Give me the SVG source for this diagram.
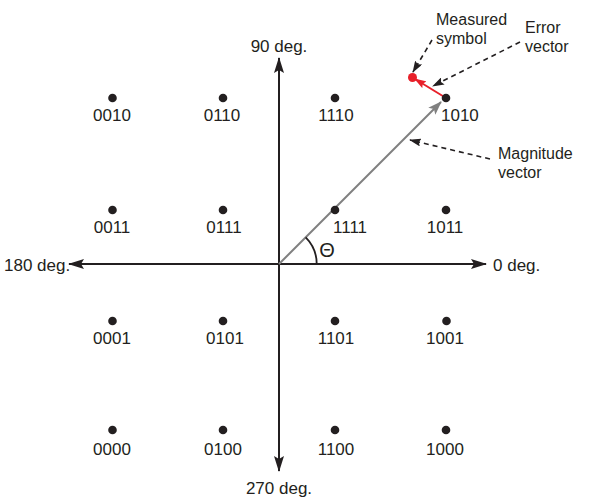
<svg xmlns="http://www.w3.org/2000/svg" width="595" height="504" viewBox="0 0 595 504">
<style>
text{font-family:"Liberation Sans",Arial,sans-serif;font-size:17px;fill:#231f20}
.lbl{text-anchor:middle}
.note{font-size:16px}
.dot{fill:#231f20}
.axis{stroke:#231f20;stroke-width:2;fill:none}
.dash{stroke:#231f20;stroke-width:1.6;stroke-dasharray:5,4;fill:none}
</style>
<defs>
<marker id="ah" markerWidth="16" markerHeight="10" refX="15" refY="5" orient="auto" markerUnits="userSpaceOnUse">
<path d="M0,0 L16,5 L0,10 L3,5 Z" fill="#231f20"/>
</marker>
<marker id="ahs" markerWidth="12" markerHeight="8" refX="11" refY="4" orient="auto" markerUnits="userSpaceOnUse">
<path d="M0,0 L12,4 L0,8 L2,4 Z" fill="#231f20"/>
</marker>
<marker id="ahg" markerWidth="14" markerHeight="10" refX="13" refY="5" orient="auto" markerUnits="userSpaceOnUse">
<path d="M0,0 L14,5 L0,10 L3,5 Z" fill="#808080"/>
</marker>
<marker id="ahr" markerWidth="12" markerHeight="8" refX="11" refY="4" orient="auto" markerUnits="userSpaceOnUse">
<path d="M0,0 L12,4 L0,8 L2,4 Z" fill="#e8202a"/>
</marker>
</defs>
<g id="connectors">
<line class="axis" x1="279" y1="264" x2="279" y2="58" marker-end="url(#ah)"/>
<line class="axis" x1="279" y1="264" x2="279" y2="471" marker-end="url(#ah)"/>
<line class="axis" x1="279" y1="264" x2="69" y2="264" marker-end="url(#ah)"/>
<line class="axis" x1="279" y1="264" x2="486" y2="264" marker-end="url(#ah)"/>
<line x1="279" y1="264" x2="441" y2="102" stroke="#808080" stroke-width="2" marker-end="url(#ahg)"/>
<path d="M316.7,264 A37.7,37.7 0 0 0 305.7,237.3" fill="none" stroke="#231f20" stroke-width="1.8"/>
<line x1="446" y1="98" x2="415" y2="79" stroke="#e8202a" stroke-width="2" marker-end="url(#ahr)"/>
<line class="dash" x1="432" y1="40" x2="413" y2="72" marker-end="url(#ahs)"/>
<line class="dash" x1="520" y1="42" x2="433" y2="86" marker-end="url(#ahs)"/>
<line class="dash" x1="490" y1="159" x2="410" y2="140" marker-end="url(#ahs)"/>
</g>
<g id="axis-labels">
<text class="lbl" x="279" y="52">90 deg.</text>
<text class="lbl" x="279" y="494">270 deg.</text>
<text x="4" y="271">180 deg.</text>
<text x="493" y="271">0 deg.</text>
<text x="327" y="257" class="lbl" style="font-size:20px">Θ</text>
</g>
<g id="annotations">
<text class="note" x="436" y="25">Measured</text>
<text class="note" x="436" y="44">symbol</text>
<text class="note" x="525" y="33">Error</text>
<text class="note" x="525" y="52">vector</text>
<text class="note" x="498" y="159">Magnitude</text>
<text class="note" x="498" y="178">vector</text>
</g>
<g id="measured"><circle cx="412.5" cy="77.5" r="4.5" fill="#e8202a"/></g>
<g id="n0010"><circle class="dot" cx="112.5" cy="98" r="4.3"/><text class="lbl" x="112" y="121">0010</text></g>
<g id="n0110"><circle class="dot" cx="223" cy="98" r="4.3"/><text class="lbl" x="222" y="121">0110</text></g>
<g id="n1110"><circle class="dot" cx="335" cy="98" r="4.3"/><text class="lbl" x="336" y="121">1110</text></g>
<g id="n1010"><circle class="dot" cx="446" cy="98" r="4.3"/><text x="441" y="121">1010</text></g>
<g id="n0011"><circle class="dot" cx="112.5" cy="210" r="4.3"/><text class="lbl" x="112" y="233">0011</text></g>
<g id="n0111"><circle class="dot" cx="223" cy="210" r="4.3"/><text class="lbl" x="224" y="233">0111</text></g>
<g id="n1111"><circle class="dot" cx="335" cy="210" r="4.3"/><text x="333" y="233">1111</text></g>
<g id="n1011"><circle class="dot" cx="446" cy="210" r="4.3"/><text class="lbl" x="445" y="233">1011</text></g>
<g id="n0001"><circle class="dot" cx="112.5" cy="321" r="4.3"/><text class="lbl" x="112" y="344">0001</text></g>
<g id="n0101"><circle class="dot" cx="223" cy="321" r="4.3"/><text class="lbl" x="225" y="344">0101</text></g>
<g id="n1101"><circle class="dot" cx="335" cy="321" r="4.3"/><text class="lbl" x="336" y="344">1101</text></g>
<g id="n1001"><circle class="dot" cx="446.5" cy="321" r="4.3"/><text class="lbl" x="445" y="344">1001</text></g>
<g id="n0000"><circle class="dot" cx="112.5" cy="430" r="4.3"/><text class="lbl" x="112" y="455">0000</text></g>
<g id="n0100"><circle class="dot" cx="223" cy="430" r="4.3"/><text class="lbl" x="223" y="455">0100</text></g>
<g id="n1100"><circle class="dot" cx="335" cy="430" r="4.3"/><text class="lbl" x="336" y="455">1100</text></g>
<g id="n1000"><circle class="dot" cx="446" cy="430" r="4.3"/><text class="lbl" x="445" y="455">1000</text></g>
</svg>
